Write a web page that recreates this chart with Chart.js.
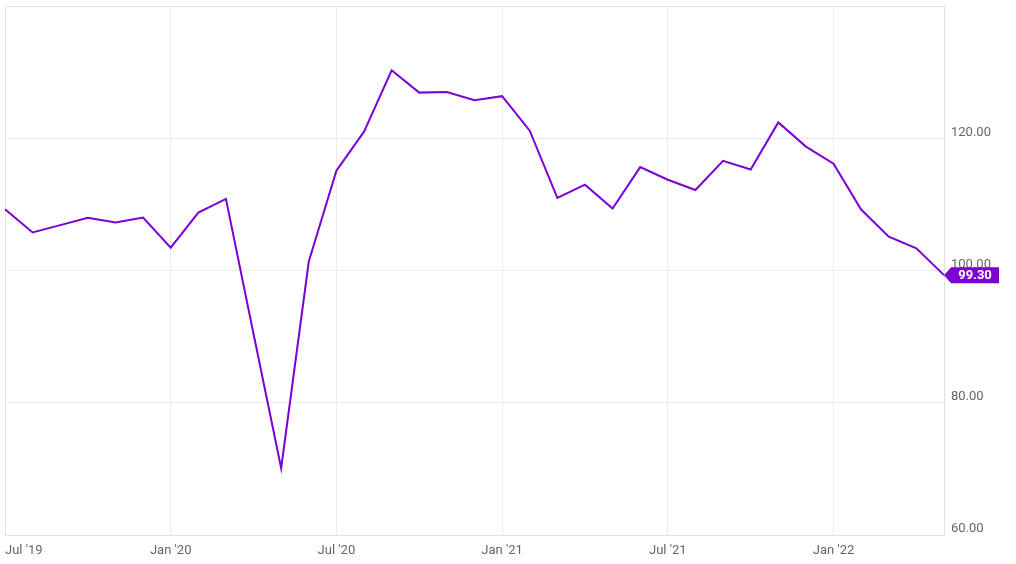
<!DOCTYPE html>
<html>
<head>
<meta charset="utf-8">
<script src="https://cdn.jsdelivr.net/npm/chart.js@4.4.1/dist/chart.umd.min.js"></script>
<style>
    html, body { margin: 0; padding: 0; background: #fff; }
    #chart-container { width: 1016px; height: 564px; position: relative; }
</style>
</head>
<body>
<div id="chart-container"><canvas id="myChart"></canvas></div>
<script>
// monthly readings, end of month, Jun 2019 - Apr 2022
var months = ["2019-06", "2019-07", "2019-08", "2019-09", "2019-10", "2019-11", "2019-12",
    "2020-01", "2020-02", "2020-03", "2020-04", "2020-05", "2020-06", "2020-07", "2020-08",
    "2020-09", "2020-10", "2020-11", "2020-12", "2021-01", "2021-02", "2021-03", "2021-04",
    "2021-05", "2021-06", "2021-07", "2021-08", "2021-09", "2021-10", "2021-11", "2021-12",
    "2022-01", "2022-02", "2022-03", "2022-04"];
var values = [109.26, 105.76, 106.86, 107.97, 107.26, 108.02, 103.46,
    108.77, 110.83, 90.4, 70.1, 101.35, 115.1, 121.0, 130.27,
    126.9, 127.0, 125.76, 126.36, 121.14, 110.98, 112.98, 109.37,
    115.64, 113.73, 112.18, 116.59, 115.28, 122.4, 118.74, 116.14,
    109.22, 105.11, 103.35, 99.30];
// x tick labels and the month index they sit on
var tickIndex = [0, 6, 12, 18, 24, 30];
var tickLabels = ["Jul '19", "Jan '20", "Jul '20", "Jan '21", "Jul '21", "Jan '22"];
var yTicks = [60, 80, 100, 120, 140];

var lineColor = "#7a00d4";

// last value badge on the right axis
var lastValueTag = {
    id: "lastValueTag",
    afterDatasetsDraw: function (chart) {
        var meta = chart.getDatasetMeta(0);
        var pt = meta.data[meta.data.length - 1];
        var val = values[values.length - 1];
        var ctx = chart.ctx;
        var x = pt.x, y = pt.y;
        var w = 55, h = 16, tip = 7;
        ctx.save();
        ctx.fillStyle = lineColor;
        ctx.beginPath();
        ctx.moveTo(x, y);
        ctx.lineTo(x + tip, y - h / 2);
        ctx.lineTo(x + w, y - h / 2);
        ctx.lineTo(x + w, y + h / 2);
        ctx.lineTo(x + tip, y + h / 2);
        ctx.closePath();
        ctx.fill();
        ctx.fillStyle = "#fff";
        ctx.font = "bold 13px Roboto";
        ctx.textAlign = "center";
        ctx.textBaseline = "middle";
        ctx.fillText(val.toFixed(2), x + tip + (w - tip) / 2, y + 1);
        ctx.restore();
    }
};

// no extra label padding around the plot area
function noPadding(scale) {
    scale.paddingTop = 0;
    scale.paddingBottom = 0;
    scale.paddingLeft = 0;
    scale.paddingRight = 0;
}

var ctx = document.getElementById("myChart");
var myChart = new Chart(ctx, {
    type: "line",
    data: {
        labels: months,
        datasets: [{
            data: values,
            borderColor: lineColor,
            borderWidth: 2,
            pointRadius: 0,
            tension: 0,
            fill: false
        }]
    },
    options: {
        responsive: true,
        maintainAspectRatio: false,
        animation: false,
        layout: { autoPadding: false, padding: { left: 5, top: 6, right: 0, bottom: 0 } },
        plugins: {
            legend: { display: false },
            tooltip: { enabled: false }
        },
        scales: {
            x: {
                type: "category",
                offset: false,
                grid: {
                    drawTicks: false,
                    color: function (c) {
                        if (c.index === 0) return "#e2e2e2";
                        return tickIndex.indexOf(c.index) >= 0 ? "#ececec" : "rgba(0,0,0,0)";
                    }
                },
                border: { display: true, color: "#e2e2e2", width: 1 },
                ticks: {
                    autoSkip: false,
                    maxRotation: 0,
                    align: "inner",
                    padding: 8,
                    color: "#666",
                    font: { family: "Roboto", size: 13 },
                    callback: function (v, i) {
                        var k = tickIndex.indexOf(i);
                        return k >= 0 ? tickLabels[k] : "";
                    }
                },
                afterFit: function (scale) { scale.height = 29; noPadding(scale); }
            },
            y: {
                position: "right",
                min: 60,
                max: 140,
                afterBuildTicks: function (scale) {
                    scale.ticks = yTicks.map(function (v) { return { value: v }; });
                },
                grid: {
                    drawTicks: false,
                    color: function (c) {
                        return c.tick && c.tick.value === 140 ? "#e2e2e2" : "#ececec";
                    }
                },
                border: { display: true, color: "#e2e2e2", width: 1 },
                ticks: {
                    padding: 7,
                    labelOffset: -6,
                    color: "#666",
                    font: { family: "Roboto", size: 13 },
                    callback: function (v) {
                        return v === 140 ? "" : Number(v).toFixed(2);
                    }
                },
                afterFit: function (scale) { scale.width = 72; noPadding(scale); }
            }
        }
    },
    plugins: [lastValueTag]
});
</script>
</body>
</html>
